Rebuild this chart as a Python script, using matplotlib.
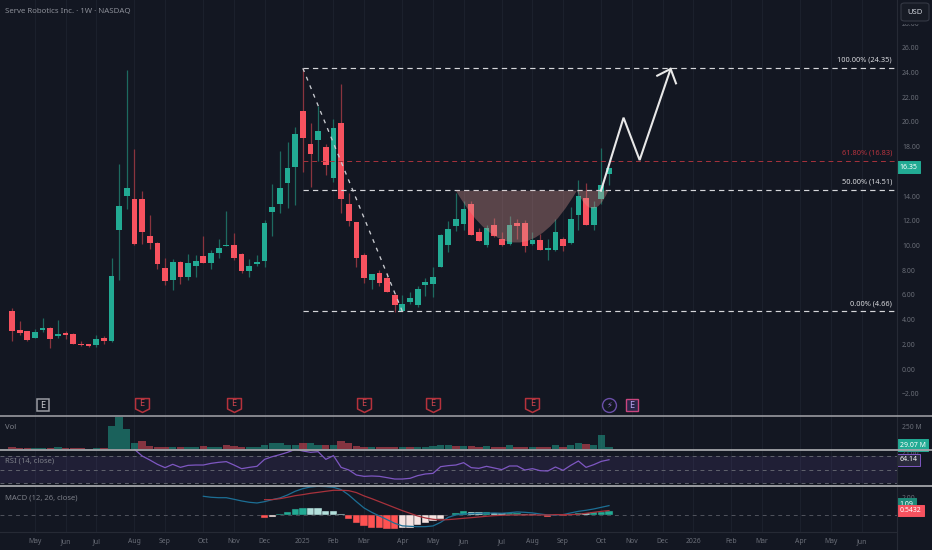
import matplotlib
matplotlib.use("Agg")
import matplotlib.pyplot as plt
from matplotlib.lines import Line2D
from matplotlib.patches import FancyBboxPatch, PathPatch, Rectangle
from matplotlib.path import Path
from matplotlib.transforms import blended_transform_factory

plt.rcParams["font.family"] = ["Noto Sans", "DejaVu Sans"]

# candles
opens = [4.72, 3.16, 3.05, 2.51, 3.16, 3.32, 2.70, 2.89, 2.81, 2.02, 2.02, 1.92, 2.48,
         2.24, 11.26, 14.00, 13.77, 13.77, 10.77, 10.18, 8.18, 7.18, 8.69, 7.48, 8.31, 9.15,
         8.61, 9.42, 9.99, 10.04, 9.31, 7.96, 8.53, 8.74, 12.74, 13.33, 15.09, 16.33,
         20.89, 18.22, 18.54, 18.00, 15.47, 19.89, 13.33, 11.90, 9.20, 7.23, 7.77, 7.34,
         5.96, 4.66, 5.42, 5.18, 6.80, 6.91, 8.29, 10.04, 11.60, 11.74, 13.33, 11.12,
         10.04, 11.66, 10.53, 10.12, 11.85, 11.85, 10.12, 10.42, 9.66, 9.61, 10.50, 10.23,
         12.44, 13.85, 11.69, 13.74, 15.82]
highs = [4.94, 3.89, 3.05, 3.21, 4.13, 3.43, 3.94, 3.05, 2.89, 2.24, 2.02, 2.75, 2.67,
         8.96, 16.60, 24.20, 17.79, 14.44, 12.47, 10.31, 8.96, 8.91, 8.74, 9.31, 9.20, 10.77,
         9.64, 10.50, 12.82, 10.99, 9.42, 8.91, 9.23, 12.06, 14.95, 17.65, 18.41, 19.60,
         24.35, 19.92, 21.30, 18.22, 20.27, 23.08, 14.28, 11.90, 9.37, 7.67, 8.02, 7.75,
         6.18, 5.96, 6.26, 6.75, 7.34, 8.23, 10.90, 11.96, 14.28, 13.60, 13.60, 11.44,
         11.66, 12.23, 11.09, 12.42, 12.17, 12.06, 11.07, 10.93, 10.55, 12.17, 10.72, 13.09,
         15.30, 15.03, 13.63, 17.89, 16.30]
lows = [2.29, 2.75, 2.29, 2.51, 3.00, 1.73, 2.54, 2.46, 2.00, 1.86, 1.81, 1.81, 2.02,
        2.21, 7.21, 12.98, 10.01, 10.12, 9.72, 8.12, 6.83, 6.37, 6.88, 7.18, 7.45, 8.56,
        8.10, 8.99, 9.99, 8.83, 7.80, 7.48, 8.34, 8.26, 10.77, 12.66, 13.04, 13.30,
        15.92, 14.74, 16.84, 15.74, 15.14, 12.63, 11.61, 8.23, 6.96, 6.50, 6.72, 6.21,
        4.64, 4.66, 5.29, 5.02, 5.91, 5.86, 8.29, 9.47, 11.17, 11.26, 10.85, 10.36,
        9.91, 10.66, 9.96, 10.07, 10.50, 9.50, 10.01, 9.64, 8.85, 9.58, 9.58, 10.12,
        11.26, 11.63, 11.26, 13.36, 14.90]
closes = [3.10, 2.94, 2.35, 3.02, 3.29, 2.46, 2.86, 2.75, 2.02, 1.94, 1.89, 2.43, 2.24,
          7.56, 13.20, 14.63, 10.12, 11.12, 10.18, 8.47, 7.15, 8.69, 7.48, 8.58, 8.74, 8.61,
          9.37, 9.77, 10.04, 8.99, 7.96, 8.34, 8.69, 11.79, 13.09, 14.63, 16.30, 19.03,
          18.70, 17.44, 19.27, 16.55, 19.49, 13.79, 11.96, 8.99, 7.40, 7.67, 6.94, 6.21,
          5.18, 5.29, 5.75, 6.48, 7.04, 7.42, 10.85, 11.34, 12.15, 12.93, 10.85, 10.39,
          11.44, 10.77, 10.01, 11.66, 11.61, 9.96, 10.42, 9.66, 9.82, 11.09, 9.96, 12.15,
          14.00, 11.63, 13.09, 14.90, 16.30]

volume = [23, 11, 11, 11, 11, 15, 23, 11, 11, 11, 8, 11, 11,
          265, 356, 231, 76, 95, 42, 23, 27, 30, 30, 30, 23, 42, 30, 30, 49, 42, 30, 23, 23,
          53, 72, 76, 49, 49, 76, 72, 45, 45, 53, 95, 72, 42,
          30, 30, 30, 23, 23, 23, 23, 23, 23, 42, 53, 45, 42, 42, 42, 23, 42, 30, 30, 49,
          30, 30, 23, 30, 30, 53, 23, 53, 76, 64, 45, 155, 29]
volume_sides = "rrrggrgrrrrgr" + "ggggrrrrgrggrggrrrgggggggrggrgrrr" + "rgrrrgrgggggrgrrgrrgrrgrrgrggrggg"

rsi_start = 16
rsi = [79.2, 69.6, 63.8, 57.5, 52.7, 57.5, 53.1, 56.0, 56.5, 56.5, 58.9, 60.4, 61.4, 56.5,
       51.2, 53.1, 54.6, 64.7, 68.6, 71.5, 74.9, 79.2, 76.8, 74.9, 75.8, 64.7, 70.1, 53.1,
       49.3, 42.0, 40.1, 40.6, 40.1, 38.2, 36.2, 36.2, 37.2, 41.1, 43.5, 44.4, 54.1, 55.6,
       56.5, 59.9, 52.7, 51.7, 54.6, 52.2, 49.8, 55.1, 55.1, 49.3, 51.2, 48.3, 47.8, 53.6,
       48.8, 56.0, 62.3, 53.1, 57.0, 61.8, 64.14]

macd_start = 25
macd = [2.16, 2.05, 2.0, 2.0, 1.82, 1.63, 1.48, 1.4, 1.55, 1.78, 1.97, 2.31, 2.73, 3.03,
        3.22, 3.3, 3.26, 3.18, 2.92, 2.31, 1.55, .83, .34, -.08, -.49, -.91, -1.2, -1.25,
        -1.29, -1.29, -1.21, -.8, -.23, .04, .15, .19, .23, .23, .27, .23, .3, .38, .34,
        .27, .15, .04, .04, .08, .27, .45, .57, .72, .91, 1.1]
signal_start = 33
signal = [1.78, 1.78, 1.89, 2.05, 2.23, 2.35, 2.5, 2.61, 2.73, 2.84, 2.84, 2.8, 2.58, 2.2,
          1.89, 1.55, 1.21, .87, .53, .23, -.08, -.3, -.45, -.53, -.49, -.42, -.34, -.27,
          -.19, -.11, -.04, 0, .04, .04, .04, .04, .04, .04, .08, .08, .08, .11, .23, .34,
          .45, .54]
hist = [-.3, -.15, .19, .42, .68, .8, .8, .8, .53, .53, .15, -.38, -.83, -1.25, -1.4, -1.48,
        -1.6, -1.6, -1.45, -1.44, -1.06, -.87, -.68, -.42, .02, .27, .45, .42, .42, .42, .3,
        .23, .27, .27, .15, .15, .08, -.15, .04, -.08, .15, .23, .3, .34, .42, .53]
hist_kinds = "rq" + "tttt" + "ppppp" + "rrrrrrr" + "qqqqqq" + "ttt" + "pp" + "t" + "pp" + "tt" + "pp" + "trtr" + "tt" + "p" + "ttt"

month_pos = [3, 7, 11, 16, 20, 25, 29, 33, 38, 42, 46, 51, 55, 59, 64, 68, 72, 77, 81, 85,
             89, 94, 98, 103, 107, 111]
month_labels = ["May", "Jun", "Jul", "Aug", "Sep", "Oct", "Nov", "Dec", "2025", "Feb", "Mar",
                "Apr", "May", "Jun", "Jul", "Aug", "Sep", "Oct", "Nov", "Dec", "2026", "Feb",
                "Mar", "Apr", "May", "Jun"]

price_ticks = list(range(-2, 30, 2))

fib_prices = [24.35, 16.83, 14.51, 4.66]
fib_labels = ["100.00% (24.35)", "61.80% (16.83)", "50.00% (14.51)", "0.00% (4.66)"]
fib_start = 38

drop_x = [38, 51]
drop_y = [24.35, 4.66]

cup_x = [58, 65.9, 73.8, 75.9, 77.9]
cup_y = [14.44, 6.02, 14.44, 11.57, 14.44]

path_x = [76.95, 79.9, 82, 86.05]
path_y = [14.44, 20.35, 16.92, 24.3]
head_x = [84.3, 86.05, 86.75]
head_y = [23.75, 24.3, 23.13]

earnings_pos = [4, 17, 29, 46, 55, 68]
earnings_done = [True, False, False, False, False, False]

BG = "#131722"
GRID = "#1b202c"
TICK = "#6a6e78"
UP = "#22ab94"
DOWN = "#f7525f"
UP_WICK = "#1d6a60"
DOWN_WICK = "#8a343e"
W, H = 932, 550
SCALE_X = 897
PX_PER_BAR = 7.654
FIRST_BAR = 12


def pane(top, bottom):
    ax = fig.add_axes([0, 1 - bottom / H, SCALE_X / W, (bottom - top) / H])
    ax.set_facecolor(BG)
    ax.set_xlim(-FIRST_BAR / PX_PER_BAR, (SCALE_X - FIRST_BAR) / PX_PER_BAR)
    ax.set_xticks(month_pos)
    ax.set_xticklabels([])
    ax.tick_params(length=0, labelcolor=TICK, labelsize=4.9, pad=3.5)
    ax.yaxis.tick_right()
    ax.grid(axis="x", color=GRID, lw=0.8)
    ax.set_axisbelow(True)
    for s in ax.spines.values():
        s.set_visible(False)
    return ax


def scale_tag(ax, y, text, bg, edge=None):
    tr = blended_transform_factory(ax.transAxes, ax.transData)
    ax.text(1 + 2.5 / SCALE_X, y, text, transform=tr, va="center", ha="left", color="white", fontsize=5,
            zorder=20, clip_on=False,
            bbox=dict(boxstyle="square,pad=0.35", fc=bg, ec=edge or bg, lw=0.7))


fig = plt.figure(figsize=(W / 100, H / 100), dpi=100, facecolor=BG)

# main pane
ax = pane(0, 415.3)
ax.set_ylim((369 - 415.3) / 12.35, 369 / 12.35)
ax.set_yticks(price_ticks)
ax.set_yticklabels([f"{t:.2f}" if t >= 0 else f"\u2212{-t:.2f}" for t in price_ticks])

n = range(len(opens))
for i in n:
    up = closes[i] >= opens[i]
    ax.vlines(i, lows[i], highs[i], color=UP_WICK if up else DOWN_WICK, lw=0.9, zorder=3)
    ax.bar(i, abs(closes[i] - opens[i]), bottom=min(opens[i], closes[i]), width=0.75,
           color=UP if up else DOWN, zorder=4)

for price, label in zip(fib_prices, fib_labels):
    red = price == 16.83
    ax.plot([fib_start, ax.get_xlim()[1]], [price, price], color="#a8323c" if red else "#d5d6da",
            lw=0.7 if red else 0.85, dashes=(5, 4) if red else (4.5, 3.5), zorder=5)
    ax.text(((892 - FIRST_BAR) / PX_PER_BAR), price + 0.35, label, ha="right", va="bottom",
            color="#b5333e" if red else "#d8d9dd", fontsize=5.3, zorder=6)

ax.plot(drop_x, drop_y, color="#c9cbd0", lw=0.95, dashes=(3, 4), zorder=5)

# cup shape over the candles
verts = list(zip(cup_x, cup_y)) + [(cup_x[0], cup_y[0])]
codes = [Path.MOVETO, Path.CURVE3, Path.CURVE3, Path.CURVE3, Path.CURVE3, Path.CLOSEPOLY]
ax.add_patch(PathPatch(Path(verts, codes), fc="#d89590", ec="none", alpha=0.36, zorder=6))

ax.plot(path_x, path_y, color="#e8e8e8", lw=1.5, zorder=7, solid_joinstyle="miter")
ax.plot(head_x, head_y, color="#e8e8e8", lw=1.5, zorder=7, solid_joinstyle="miter")

# earnings markers
shield = Path([(-1, 1), (1, 1), (1, -0.5), (0, -1), (-1, -0.5), (-1, 1)], closed=True)
tr_mark = blended_transform_factory(ax.transData, ax.transAxes)
ypos = (415.3 - 405) / 415.3
for pos, done in zip(earnings_pos, earnings_done):
    if done:
        ax.plot(pos, ypos, marker="s", ms=8, mfc=BG, mec="#9a9ca2", mew=1.1, transform=tr_mark,
                clip_on=False, zorder=8)
        ax.text(pos, ypos, "E", color="#c8c9cd", fontsize=6.6, ha="center", va="center",
                transform=tr_mark, zorder=9)
    else:
        ax.plot(pos, ypos, marker=shield, ms=10, mfc=BG, mec="#b5323c", mew=1.1, transform=tr_mark,
                clip_on=False, zorder=8)
        ax.text(pos, ypos + 0.004, "E", color="#d0454f", fontsize=6.6, ha="center", va="center",
                transform=tr_mark, zorder=9)
ax.plot(78, ypos, marker="o", ms=10, mfc=BG, mec="#6a4fa8", mew=1.0, transform=tr_mark, zorder=8)
ax.text(78, ypos, "\u26a1", color="#8f6fd0", fontsize=6, ha="center", va="center",
        family=["DejaVu Sans"], transform=tr_mark, zorder=9)
ax.plot(81, ypos, marker="s", ms=8.5, mfc="#2a2548", mec="#c9457e", mew=1.0, transform=tr_mark, zorder=8)
ax.text(81, ypos, "E", color="#b9a4f0", fontsize=6.6, ha="center", va="center",
        transform=tr_mark, zorder=9)

fig.text(5 / W, 1 - 11.5 / H, "Serve Robotics Inc. \u00b7 1W \u00b7 NASDAQ", color="#8b8e97", fontsize=5.7,
         va="center", ha="left")
scale_tag(ax, 16.35, "16.35", UP)

# volume
vol = pane(415.3, 449.3)
vol.set_ylim(0, 380)
vol.bar(list(n), volume, width=0.96,
        color=[("#22ab94" if s == "g" else "#f7525f") for s in volume_sides], alpha=0.5, zorder=3)
vol.set_yticks([250])
vol.set_yticklabels(["250 M"])
fig.text(5 / W, 1 - 427.5 / H, "Vol", color="#7c7f88", fontsize=5.5, va="center")
scale_tag(vol, 48, "29.07 M", UP)

# rsi
r = pane(449.3, 486)
r.set_ylim(70 - (486 - 455.7) / 0.69, 70 + (455.7 - 449.3) / 0.69)
r.axhspan(30, 70, color="#7e57c2", alpha=0.13, lw=0, zorder=1)
for level in [70, 50, 30]:
    r.axhline(level, color="#60636d", lw=0.7, dashes=(4, 4), zorder=2)
r.plot(range(rsi_start, rsi_start + len(rsi)), rsi, color="#7e57c2", lw=0.9, zorder=4)
r.set_yticks([75])
r.set_yticklabels(["75.00"])
fig.text(5 / W, 1 - 461 / H, "RSI (14, close)", color="#7c7f88", fontsize=5.5, va="center")
scale_tag(r, 64.14, "64.14", "#2a2a3c", edge="#7e57c2")

# macd
m = pane(486, 532)
m.set_ylim(-(532 - 515.3) / 8.8, (515.3 - 486) / 8.8)
m.axhline(0, color="#50535d", lw=0.7, dashes=(4, 4), zorder=2)
kind_colors = {"t": "#22ab94", "p": "#b2dfdb", "r": "#ff5252", "q": "#f5e3e0"}
m.bar(range(signal_start, signal_start + len(hist)), hist, width=0.96,
      color=[kind_colors[k] for k in hist_kinds], edgecolor="#20242e", lw=0.3, zorder=3)
m.plot(range(macd_start, macd_start + len(macd)), macd, color="#1c6f95", lw=0.9, zorder=4)
m.plot(range(signal_start, signal_start + len(signal)), signal, color="#a8323c", lw=0.9, zorder=5)
m.set_yticks([2])
m.set_yticklabels(["2.00"])
fig.text(5 / W, 1 - 498 / H, "MACD (12, 26, close)", color="#7c7f88", fontsize=5.5, va="center")
scale_tag(m, 1.25, "1.09", "#1f8a79")
scale_tag(m, 0.5432, "0.5432", "#f7525f")
m.set_xticklabels(month_labels)
m.tick_params(axis="x", pad=4.5)

# separators and frame
for y, col, lw in [(415.5, "#a4a5aa", 1.1), (449.5, "#a4a5aa", 1.3), (486, "#a4a5aa", 1.3)]:
    fig.add_artist(Line2D([0, 1], [1 - y / H, 1 - y / H], color=col, lw=lw, zorder=30))
fig.add_artist(Line2D([0, SCALE_X / W], [1 - 532 / H, 1 - 532 / H], color="#262a35", lw=0.8))
fig.add_artist(Line2D([SCALE_X / W, SCALE_X / W], [0, 1], color="#262a35", lw=0.8, zorder=10))

# the button hides the top of the price scale
fig.add_artist(Rectangle((898 / W, 1 - 24 / H), 34 / W, 24 / H, transform=fig.transFigure, fc=BG, ec="none", zorder=24))
fig.add_artist(FancyBboxPatch((901 / W, 1 - 21 / H), 28 / W, 18 / H, transform=fig.transFigure,
                              boxstyle="round,pad=0,rounding_size=0.004", fc="#171b25", ec="#343844",
                              lw=0.8, zorder=25))
fig.text(915 / W, 1 - 12 / H, "USD", color="#d1d4dc", fontsize=5.5, ha="center", va="center", zorder=26)

fig.savefig("out.png", dpi=100, facecolor=BG)
